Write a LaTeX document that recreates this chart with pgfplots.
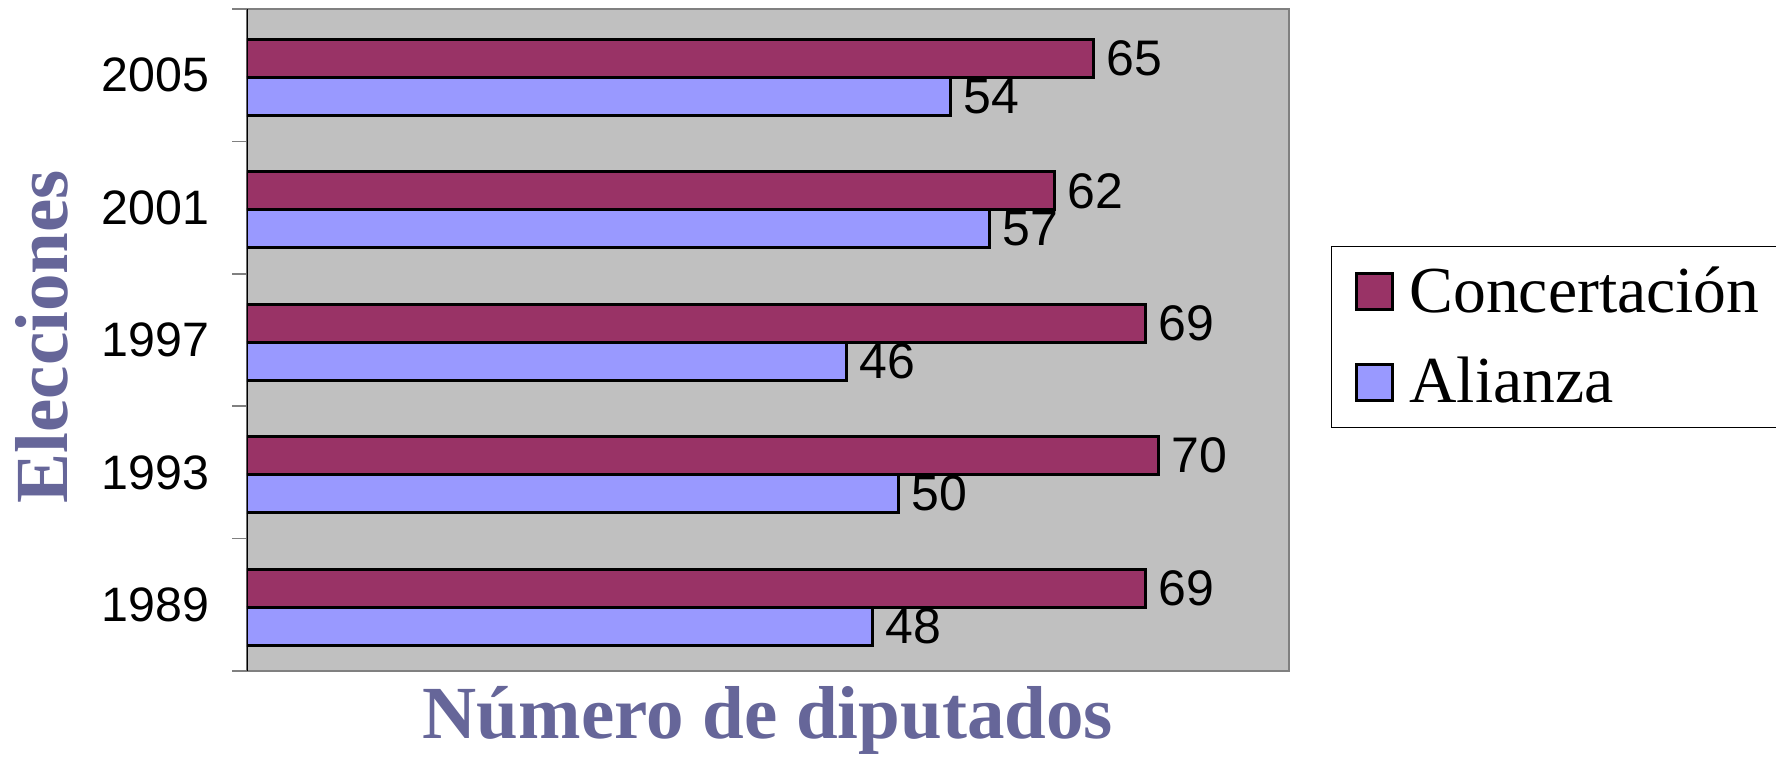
\documentclass[border=0pt]{standalone}
\usepackage{pgfplots}
\pgfplotsset{compat=1.18}
\usepackage{fontspec}
\setmainfont{Liberation Serif}
\newfontfamily\arialf{Liberation Sans}

\definecolor{conc}{HTML}{993366}
\definecolor{alia}{HTML}{9999FF}
\definecolor{plotbg}{HTML}{C0C0C0}
\definecolor{titlec}{HTML}{666699}
\definecolor{frame}{HTML}{808080}

\pgfplotstableread{
year conc alia
0 69 48
1 70 50
2 69 46
3 62 57
4 65 54
}\seats

\begin{document}
\begin{tikzpicture}
\useasboundingbox (-74.1pt,-26.1pt) rectangle (458.7pt,201.3pt);
\begin{axis}[
  at={(0,0)}, anchor=south west,
  scale only axis, width=312.6pt, height=198.6pt,
  xbar, bar width=0.287,
  xmin=0, xmax=80, ymin=-0.5, ymax=4.5,
  xtick=\empty,
  ytick={0,1,2,3,4},
  yticklabels={1989,1993,1997,2001,2005},
  minor ytick={-0.5,0.5,1.5,2.5,3.5,4.5},
  ytick pos=left,
  major tick length=0pt, minor tick length=4.4pt,
  tick align=outside, tick style={draw=frame, line width=0.5pt},
  y tick label style={font=\arialf\fontsize{14.5}{16}\selectfont, inner sep=0pt, anchor=east},
  yticklabel shift=11.2pt,
  axis background/.style={fill=plotbg},
  axis line style={draw=frame, line width=0.8pt},
  /pgf/number format/assume math mode=true,
  nodes near coords,
  nodes near coords style={font=\arialf\fontsize{15}{17}\selectfont, anchor=west, inner sep=0pt, xshift=3.5pt},
  xlabel={Número de diputados},
  ylabel={Elecciones},
  label style={font=\bfseries\fontsize{22.5}{26}\selectfont, text=titlec},
  xlabel style={at={(axis description cs:0.5,-0.074)}, anchor=center},
  ylabel style={at={(axis description cs:-0.197,0.505)}, anchor=center, rotate=0},
  legend style={at={(axis description cs:1.040,0.642)}, anchor=north west,
    draw=black, line width=0.3pt, fill=white,
    font=\fontsize{19.7}{23}\selectfont,
    inner xsep=7.1pt, inner ysep=4pt, row sep=8pt},
  legend cell align=left,
  /tikz/every even column/.append style={column sep=2.7pt},
  legend image code/.code={\draw[#1, draw=black, line width=0.9pt] (0pt,-5.4pt) rectangle (10.8pt,5.4pt);},
]
\addplot[fill=conc, draw=black, line width=0.9pt, bar shift=0.1265] table[x=conc, y=year] {\seats};
\addlegendentry{\hspace{2.7pt}Concertación}
\addplot[fill=alia, draw=black, line width=0.9pt, bar shift=-0.1605] table[x=alia, y=year] {\seats};
\addlegendentry{\hspace{2.7pt}Alianza}
\draw[black, line width=0.6pt] (rel axis cs:0,0) -- (rel axis cs:0,1);
\end{axis}
\end{tikzpicture}
\end{document}
